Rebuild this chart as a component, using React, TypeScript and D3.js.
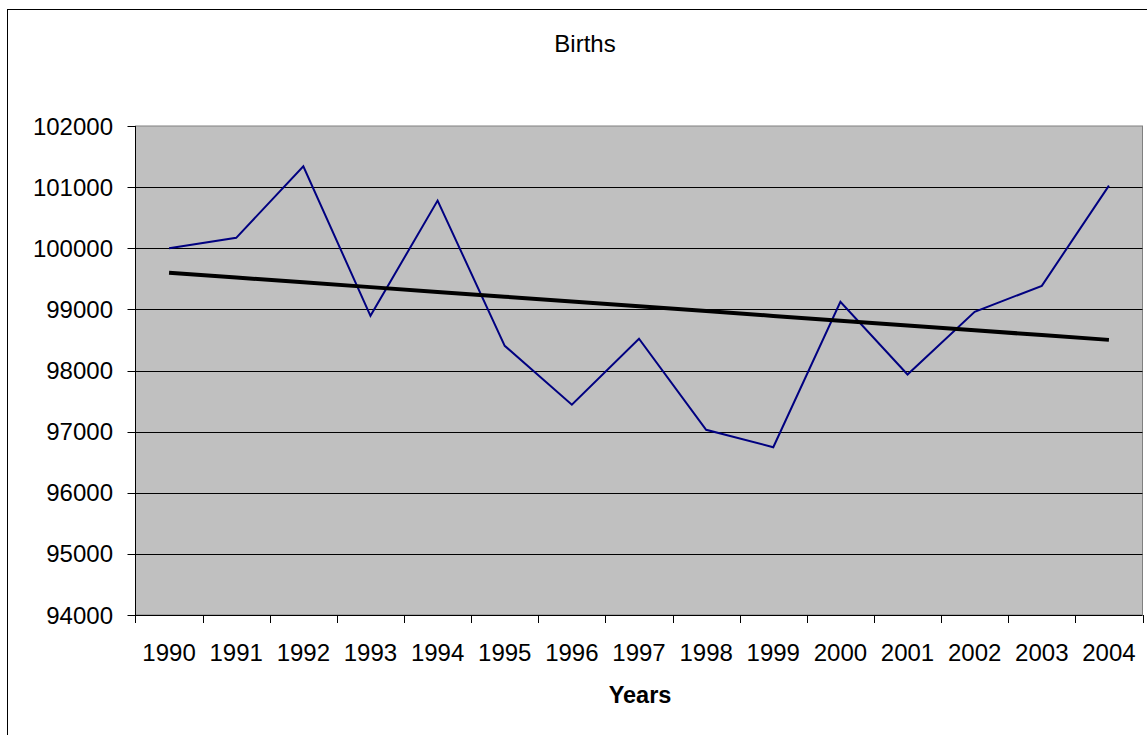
import React from "react";
import * as d3 from "d3";

// Annual births, 1990–2004
const years: string[] = [
  "1990", "1991", "1992", "1993", "1994", "1995", "1996", "1997",
  "1998", "1999", "2000", "2001", "2002", "2003", "2004",
];
const births: number[] = [
  100000, 100170, 101340, 98895, 100780, 98404, 97440, 98520,
  97030, 96745, 99125, 97935, 98960, 99385, 101025,
];
const yTicks: number[] = [94000, 95000, 96000, 97000, 98000, 99000, 100000, 101000, 102000];

const W = 1147;
const H = 735;
const plot = { left: 135.5, right: 1142.5, top: 126, bottom: 615 };
const FONT = "'Liberation Sans', Arial, sans-serif";

// Least-squares linear trend over the category index
function linearTrend(values: number[]): number[] {
  const xs = d3.range(values.length);
  const mx = d3.mean(xs) as number;
  const my = d3.mean(values) as number;
  let sxy = 0;
  let sxx = 0;
  xs.forEach((x, i) => {
    sxy += (x - mx) * (values[i] - my);
    sxx += (x - mx) * (x - mx);
  });
  const slope = sxy / sxx;
  const intercept = my - slope * mx;
  return xs.map((x) => intercept + slope * x);
}

export default function App() {
  const x = d3.scaleBand<string>().domain(years).range([plot.left, plot.right]);
  const y = d3.scaleLinear().domain([94000, 102000]).range([plot.bottom, plot.top]);
  const cx = (yr: string) => (x(yr) as number) + x.bandwidth() / 2;

  const line = d3
    .line<number>()
    .x((_, i) => cx(years[i]))
    .y((d) => y(d));

  const trend = linearTrend(births);
  const boundaries = years.map((yr) => x(yr) as number).concat([plot.right]);
  const px = (v: number) => Math.round(v) + 0.5;

  return (
    <svg
      width={W}
      height={H}
      style={{ position: "absolute", left: 0, top: 0, background: "#ffffff" }}
      fontFamily={FONT}
    >
      {/* chart area frame */}
      <rect x={7.5} y={9.5} width={W + 20} height={H + 20} fill="#ffffff" stroke="#000000" strokeWidth={1} />

      {/* title */}
      <text x={585} y={52} textAnchor="middle" fontSize={24} fill="#000000">
        Births
      </text>

      {/* plot area */}
      <rect
        x={plot.left}
        y={plot.top}
        width={plot.right - plot.left}
        height={plot.bottom - plot.top}
        fill="#c0c0c0"
        stroke="#808080"
        strokeWidth={1}
      />

      {/* horizontal gridlines */}
      {yTicks
        .filter((t) => t > 94000 && t < 102000)
        .map((t) => (
          <line key={`g${t}`} x1={plot.left} x2={plot.right} y1={px(y(t))} y2={px(y(t))} stroke="#000000" strokeWidth={1} />
        ))}

      {/* y axis */}
      <line x1={plot.left} x2={plot.left} y1={plot.top} y2={plot.bottom} stroke="#000000" strokeWidth={1} />
      {yTicks.map((t) => (
        <g key={`y${t}`}>
          <line x1={plot.left - 8} x2={plot.left} y1={px(y(t))} y2={px(y(t))} stroke="#000000" strokeWidth={1} />
          <text x={113} y={y(t) + 8.5} textAnchor="end" fontSize={24} fill="#000000">
            {t}
          </text>
        </g>
      ))}

      {/* x axis */}
      <line x1={plot.left} x2={plot.right} y1={plot.bottom + 0.5} y2={plot.bottom + 0.5} stroke="#000000" strokeWidth={1} />
      {boundaries.map((bx, i) => (
        <line key={`xt${i}`} x1={px(bx)} x2={px(bx)} y1={plot.bottom} y2={plot.bottom + 8} stroke="#000000" strokeWidth={1} />
      ))}
      {years.map((yr) => (
        <text key={`xl${yr}`} x={cx(yr)} y={661} textAnchor="middle" fontSize={24} fill="#000000">
          {yr}
        </text>
      ))}
      <text x={640} y={703} textAnchor="middle" fontSize={23.5} fontWeight="bold" fill="#000000">
        Years
      </text>

      {/* births series */}
      <path d={line(births) ?? ""} fill="none" stroke="#000080" strokeWidth={2} />

      {/* linear trend */}
      <path d={line(trend) ?? ""} fill="none" stroke="#000000" strokeWidth={4} />
    </svg>
  );
}
